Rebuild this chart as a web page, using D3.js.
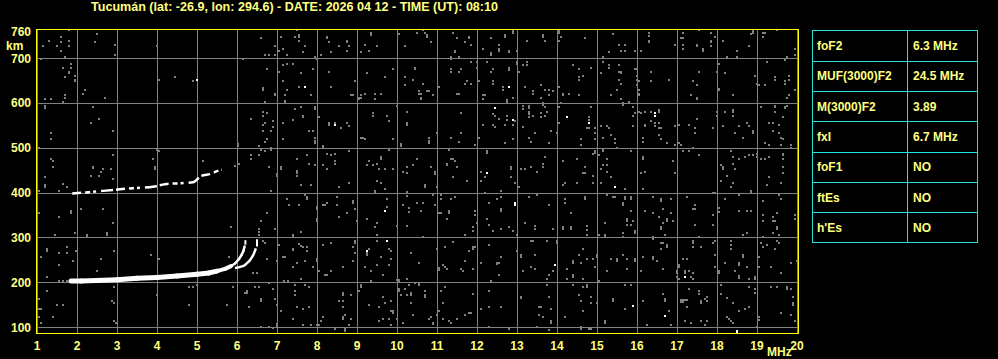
<!DOCTYPE html>
<html>
<head>
<meta charset="utf-8">
<script src="https://cdn.jsdelivr.net/npm/d3@7"></script>
<style>
  body { margin: 0; background: #000; }
  svg text { font-family: "Liberation Sans", Arial, sans-serif; font-weight: bold; font-size: 12px; fill: #ffff80; }
</style>
</head>
<body>
<div id="chart"></div>
<script>
const title = "Tucumán (lat: -26.9, lon: 294.6) - DATE: 2026 04 12 - TIME (UT): 08:10";
const freqTicks = d3.range(1, 21);
const gridHeights = [100, 200, 300, 400, 500, 600, 700];
const heightLabels = [100, 200, 300, 400, 500, 600, 700, 760];

// scaled parameters table
const paramNames = ["foF2", "MUF(3000)F2", "M(3000)F2", "fxI", "foF1", "ftEs", "h'Es"];
const paramValues = ["6.3 MHz", "24.5 MHz", "3.89", "6.7 MHz", "NO", "NO", "NO"];

// F2 ordinary trace (MHz, km)
const oFreq =   [1.85, 2.1, 2.5, 3.0, 3.5, 4.0, 4.5, 5.0, 5.3, 5.5, 5.7, 5.85, 5.95, 6.05, 6.12, 6.16, 6.19];
const oHeight = [203, 203, 204, 206, 209, 211, 214, 218, 221, 225, 230, 236, 242, 252, 262, 270, 280];
// F2 extraordinary trace
const xFreq =   [5.95, 6.1, 6.19, 6.25, 6.31, 6.36, 6.4, 6.44, 6.47];
const xHeight = [232, 235, 238, 243, 248, 254, 260, 268, 276];
// second hop of F2
const hopFreq =   [1.88, 2.3, 2.9, 3.4, 3.9, 4.2, 4.6, 4.9, 5.1, 5.35, 5.5, 5.62];
const hopHeight = [398, 401, 406, 410, 413, 419, 421, 423, 437, 442, 448, 451];
// cusp tips
const tipFreq = [6.21, 6.5];
const tipLow = [284, 280];
const tipHigh = [294, 296];

const noiseWhite = [[4.99,652],[7.69,635],[8.44,550],[12.79,635],[12.44,589],[12.89,563],[12.24,443],[14.24,568],[14.79,556],[16.44,578],[16.44,572],[9.69,359],[9.74,292],[9.24,270],[12.94,377],[12.94,373],[13.94,239],[15.44,413],[15.89,147],[16.69,125],[17.19,213],[18.49,92],[18.49,88]];

const noiseGrey = [
[1.79,762],[2.49,753],[1.6,748],[1.29,739],[1.79,739],[1.6,735],[1.14,726],[1.5,726],[1.79,726],[2.45,735],[2.94,730],[2.94,708],[1.6,717],[3.99,726],[1.09,699],[1.69,703],[6.59,744],[7.1,748],[6.94,726],[7.04,717],[7.14,721],[7.24,708],[6.69,708],[6.79,708],[6.94,708],
[1.84,688],[1.64,679],[1.84,679],[1.79,670],[1.79,666],[1.94,661],[1.94,652],[1.94,648],[1.69,657],[2.19,630],[2.14,621],[2.69,612],[1.69,617],[1.69,612],[1.64,603],[1.19,608],[1.34,608],[4.04,652],[4.44,657],[4.89,648],[6.14,699],[6.74,675],[6.64,634],[6.64,630],[6.94,621],[6.94,617],[6.69,603],[7.14,648],[7.24,630],[7.19,617],[7.19,605],[7.19,601],[7.04,670],[7.14,684],[7.24,688],
[1.19,593],[1.19,589],[2.39,592],[2.54,565],[2.34,556],[2.89,538],[1.34,533],[1.34,519],[6.34,565],[6.64,581],[6.74,577],[6.64,572],[6.89,559],[6.69,556],[6.64,550],[6.89,546],[6.64,538],[6.84,538],[7.14,556],[7.14,519],[6.74,519],[6.69,514],[1.04,500],[6.02,508],[6.02,504],[6.54,503],[6.84,500],[6.84,496],
[1.34,474],[1.39,470],[1.39,457],[1.19,434],[2.39,458],[2.39,454],[2.64,452],[2.59,447],[2.84,452],[2.34,438],[2.54,438],[2.89,483],[2.89,431],[3.99,496],[4.04,492],[3.89,474],[3.94,457],[3.94,453],[5.14,470],[5.94,460],[6.04,465],[6.34,483],[6.34,474],[6.54,483],[6.59,496],[6.69,492],[6.79,457],[7.09,457],[7.09,453],[6.99,442],[6.99,438],
[7.49,762],[7.54,752],[7.54,748],[7.44,748],[7.54,739],[7.69,726],[7.64,713],[7.94,703],[7.99,699],[8.24,748],[8.24,744],[8.29,735],[8.54,726],[8.74,739],[8.74,735],[8.79,726],[8.74,717],[8.34,713],[8.09,708],
[9.34,756],[9.34,752],[9.19,730],[9.09,713],[9.29,717],[9.49,726],[10.04,753],[10.19,726],[10.49,757],[10.64,762],[10.69,757],[10.74,752],[10.74,748],[10.84,735],
[11.39,757],[11.49,744],[11.79,748],[11.79,744],[11.69,735],[11.84,730],[11.44,717],[11.44,713],[11.34,703],[11.34,699],[11.54,703],
[12.34,744],[12.54,730],[12.54,721],[12.54,717],[12.69,752],[12.69,748],[12.14,721],[12.34,712],[12.34,708],[12.79,717],[12.79,713],[12.89,761],[12.89,757],[13.24,739],[13.64,752],[13.64,748],[12.99,717],
[7.39,688],[7.59,666],[7.89,675],[7.54,635],[7.84,617],[8.29,670],[8.34,635],[8.84,617],[8.89,617],[8.94,648],[9.04,612],[9.04,608],[9.09,617],[9.09,612],[9.19,621],[9.24,666],[9.44,621],[9.44,608],[9.59,621],[9.69,657],[9.89,675],
[10.19,657],[10.19,639],[10.39,652],[10.44,679],[10.44,675],[10.64,643],[10.54,626],[10.54,621],[10.59,621],[10.59,612],[10.59,608],[10.74,626],[10.79,626],[10.89,617],[11.04,635],
[11.34,675],[11.34,670],[11.59,675],[11.54,670],[11.74,648],[11.69,643],[11.84,643],[11.49,621],[11.54,621],[11.84,692],[11.99,692],[11.99,679],[12.04,648],[12.14,617],[12.19,617],[12.14,608],[12.24,692],[12.39,675],[12.34,670],[12.39,648],[12.39,643],[12.64,635],[12.64,630],[12.79,677],[12.79,673],[12.74,607],[12.74,603],[12.89,612],[12.99,692],[12.99,688],[13.04,670],[13.14,684],[13.24,692],[13.24,684],[13.19,635],[13.39,626],[13.39,621],[13.59,639],[13.59,612],
[7.44,586],[7.59,590],[7.64,572],[7.64,568],[7.94,590],[7.94,586],[8.04,568],[7.79,538],[7.89,538],[7.94,523],[7.94,515],[7.94,510],[7.39,563],[8.29,556],[8.29,552],[8.59,545],[8.74,556],[8.79,548],[8.44,556],
[9.39,577],[9.39,572],[9.74,572],[9.79,559],[9.09,523],[9.14,523],[9.19,519],[9.89,519],[9.99,594],[10.24,581],[10.24,556],[10.24,550],[10.79,523],[10.79,515],[10.79,510],[10.99,532],[10.09,508],[10.09,504],
[11.59,577],[11.34,523],[11.59,532],[11.54,514],[11.94,506],[12.04,523],[12.14,550],[12.39,575],[12.44,570],[12.39,550],[12.44,546],[12.54,565],[12.69,550],[12.74,572],[12.74,563],[12.94,559],[12.89,550],[12.69,510],[12.89,519],[13.14,594],[13.14,586],[13.29,594],[13.29,588],[13.29,581],[13.29,575],[13.29,568],[13.14,546],[13.39,572],[13.59,577],[13.59,568],[13.44,532],[13.29,523],[13.34,514],[13.64,599],[13.64,595],
[7.49,474],[7.49,448],[7.49,443],[7.49,437],[7.74,483],[7.79,465],[7.94,461],[8.14,504],[8.14,500],[8.24,487],[8.34,483],[8.44,487],[8.44,470],[8.44,465],[8.14,461],[8.24,452],[8.79,492],
[9.29,470],[9.24,461],[9.39,461],[9.49,465],[9.59,479],[9.59,474],[9.54,452],[9.69,452],[9.79,496],[9.89,452],[10.24,457],[10.24,443],[10.39,461],[10.14,447],[10.49,474],[10.84,457],[10.94,446],[10.94,441],
[11.29,496],[11.24,465],[11.24,461],[11.34,474],[11.39,474],[11.44,470],[11.39,434],[11.49,457],[12.24,492],[12.24,488],[12.09,447],[12.19,434],[12.84,457],[12.84,452],[12.84,434],[13.09,452],[13.19,452],[13.34,457],[13.64,465],[13.64,457],[13.49,447],
[14.04,761],[14.04,757],[14.09,748],[14.04,739],[13.69,739],[14.69,744],[15.39,753],[15.54,730],[15.69,730],[15.59,717],[15.69,717],[15.29,713],[15.14,703],[15.94,717],[16.09,717],[16.29,757],[16.29,750],[16.29,739],[16.29,735],[16.94,730],[17.14,757],[17.09,744],[17.14,744],[17.14,730],[17.14,721],[17.54,762],[17.49,730],[17.49,726],[17.64,721],[17.64,717],[17.84,757],[17.84,739],[17.84,735],[17.84,726],[17.94,748],[18.14,739],[18.49,717],[18.24,703],[18.49,703],[18.79,726],[18.89,761],[18.89,757],[18.84,753],[19.14,757],[19.14,748],[19.19,757],[19.49,762],[19.94,721],[19.94,708],[19.74,703],
[13.69,630],[13.79,630],[13.89,626],[13.79,617],[14.04,635],[14.14,621],[14.14,617],[14.29,621],[14.54,617],[14.39,684],[14.54,675],[14.64,661],[14.54,657],[14.54,652],[14.84,679],[15.14,692],[15.09,666],[15.29,684],[15.29,679],[15.54,684],[15.54,670],[15.59,670],[15.59,666],[15.54,652],[15.59,643],[15.49,630],[15.34,617],[15.59,608],[15.79,603],[15.94,675],[15.99,675],[15.99,661],[15.99,652],[16.04,648],[15.99,639],[16.04,630],[16.04,621],[16.04,617],[16.34,670],[16.34,648],[16.79,652],[17.54,670],[17.39,648],[17.49,639],[17.34,617],[17.49,612],[17.49,608],[18.04,688],[17.99,670],[18.04,632],[18.04,628],[18.19,666],[18.39,617],[18.94,661],[18.99,643],[19.04,639],[19.19,639],[19.24,692],[19.44,657],[19.44,652],[19.69,648],[19.69,643],[19.69,696],[19.79,661],[19.79,652],[19.79,617],[19.74,612],[19.94,630],
[13.69,590],[13.74,581],[13.69,572],[14.04,590],[14.09,599],[14.79,568],[14.79,563],[14.74,545],[14.79,545],[14.94,545],[14.94,532],[14.94,519],[14.59,519],[13.84,538],[13.99,533],[14.04,556],[13.79,510],[14.59,506],[14.84,590],[15.09,548],[15.24,548],[15.29,545],[15.14,523],[15.34,528],[15.44,519],[15.44,510],[15.49,500],[15.64,599],[15.64,595],[15.79,603],[15.89,590],[15.94,577],[15.89,572],[15.89,548],[16.04,581],[16.09,577],[16.19,581],[16.34,581],[16.54,585],[16.54,581],[16.34,559],[16.44,556],[16.54,556],[16.19,552],[16.19,548],[16.14,523],[16.14,514],[16.44,548],[16.54,545],[16.59,545],[16.54,528],[16.59,519],[16.74,510],[16.94,548],[16.94,506],[17.04,550],[17.29,550],[17.44,545],[17.44,532],[17.49,565],[17.89,545],[17.99,581],[17.99,572],[18.19,581],[18.39,585],[18.39,581],[18.39,572],[18.14,548],[18.44,532],[18.54,548],[18.64,523],[18.74,556],[18.79,548],[18.89,538],[18.89,533],[19.09,590],[19.29,556],[19.39,556],[19.44,594],[19.44,590],[19.44,581],[19.64,568],[19.69,592],[19.69,588],[19.74,594],[19.54,550],[19.39,538],[19.54,532],[19.59,523],[19.64,519],[19.19,510],[19.29,506],[19.59,506],[19.84,506],
[13.69,479],[14.14,470],[14.49,474],[14.69,457],[14.64,443],[14.69,443],[14.89,438],[14.94,492],[14.94,488],[14.89,487],[15.14,496],[15.14,492],[15.04,483],[15.24,474],[15.14,461],[15.24,461],[15.09,452],[15.24,447],[15.34,434],[15.84,492],[16.14,479],[16.14,474],[16.09,443],[16.19,447],[16.89,470],[16.94,443],[17.04,510],[17.09,506],[17.14,492],[17.29,492],[17.39,500],[17.54,483],[18.09,461],[18.14,457],[18.14,452],[18.24,438],[18.34,492],[18.39,479],[18.39,465],[18.44,452],[18.54,474],[18.69,479],[18.79,483],[18.89,483],[18.99,487],[18.99,479],[19.09,474],[19.19,474],[19.29,479],[19.64,487],[19.64,483],[19.64,474],[19.64,457],[19.64,443],[19.84,500],[19.29,434],
[1.19,416],[1.19,412],[1.64,419],[1.74,413],[1.04,404],[1.54,404],[1.04,355],[1.84,359],[1.84,355],[1.54,346],[2.09,364],[2.64,364],[2.89,332],[1.44,306],[1.94,310],[2.24,305],[2.24,301],[2.74,310],[2.74,306],
[1.24,274],[1.24,270],[1.09,257],[1.54,266],[1.74,279],[1.74,266],[1.97,270],[1.89,248],[1.54,239],[2.49,226],[2.59,252],[2.92,270],[1.24,212],[3.84,261],[4.04,252],[1.55,203],[1.65,203],[1.75,204],
[1.24,181],[1.04,163],[1.49,150],[1.64,150],[1.04,141],[1.09,141],[1.39,123],[1.04,123],[1.09,110],[2.92,190],[2.92,154],[2.87,158],[2.92,114],[2.97,110],[3.99,172],[4.79,190],[4.89,190],[4.79,150],[4.99,194],[5.74,150],[6.24,181],[6.24,177],[6.19,177],[6.29,145],[6.44,190],[6.54,190],[6.59,163],[6.59,159],[6.79,199],[6.89,186],[6.94,163],[6.99,150],[7.09,137],[6.99,107],[6.99,103],[6.79,101],[6.59,101],[6.89,98],[5.89,190],
[6.54,318],[6.54,312],[6.54,306],[6.59,337],[6.74,355],[6.94,318],[6.84,404],[7.24,386],[7.29,372],[6.64,292],[6.69,288],[6.74,252],[6.99,248],[7.14,257],[7.19,257],[7.04,284],[5.84,323],[5.79,257],[6.39,221],[6.49,221],[7.17,203],[7.27,203],
[7.59,417],[7.84,417],[8.54,413],[8.79,421],[9.49,426],[9.59,421],[9.69,408],[10.69,417],[10.69,413],[10.99,413],[11.74,426],[12.09,426],[12.94,421],
[7.69,395],[7.74,390],[7.74,386],[7.54,373],[8.19,373],[8.24,377],[8.14,373],[8.49,373],[8.49,390],[8.89,381],[8.89,377],[8.74,355],[8.54,346],[7.99,368],[7.99,364],[7.99,342],[7.99,337],[8.94,364],[8.99,337],[7.39,306],[7.39,302],[7.59,312],[9.44,403],[9.44,399],[9.74,386],[9.74,368],[9.24,341],[9.49,332],[9.44,323],[9.49,306],[10.29,366],[10.29,357],[10.14,373],[10.24,401],[10.24,392],[9.99,325],[10.24,325],[10.49,377],[10.64,377],[10.59,359],[10.94,373],[10.89,395],[11.09,395],[11.09,386],[11.34,386],[11.44,390],[11.04,355],[11.09,355],[11.29,359],[11.29,355],[11.24,341],[10.64,301],[11.69,306],[11.94,359],[11.94,350],[11.89,323],[11.89,314],[11.99,332],[12.19,400],[12.29,377],[12.24,341],[12.29,327],[12.39,314],[12.49,386],[12.59,404],[12.59,390],[12.59,364],[12.59,359],[12.59,319],[12.79,323],[12.89,314],[13.04,413],[13.19,332],[13.29,390],[13.49,395],[13.44,325],[13.44,319],[12.99,306],
[7.54,286],[7.59,282],[7.64,278],[7.39,275],[7.39,271],[7.74,279],[7.74,270],[7.49,244],[7.69,248],[7.39,235],[7.59,208],[7.89,235],[7.99,252],[7.99,248],[8.14,283],[8.34,287],[8.19,217],[8.24,217],[8.04,226],[8.34,226],[8.64,235],[8.89,279],[8.89,248],[8.94,292],[8.94,288],[8.94,266],[9.24,266],[9.24,262],[9.29,274],[9.19,235],[9.34,226],[9.34,204],[9.59,257],[9.64,217],[9.49,239],[9.79,274],[9.84,270],[9.84,252],[9.79,239],[9.49,292],[10.34,266],[10.54,244],[9.99,206],[10.04,206],[10.04,202],[10.24,208],[10.99,274],[11.19,279],[11.39,290],[11.04,231],[11.04,227],[11.14,239],[11.19,235],[11.24,230],[11.59,230],[11.64,226],[11.69,248],[11.79,270],[11.89,279],[11.94,279],[11.89,275],[11.89,230],[12.09,244],[12.29,283],[12.49,244],[12.54,244],[12.49,240],[12.59,257],[12.54,217],[12.99,270],[13.09,261],[13.09,257],[13.14,226],[13.34,292],[13.39,292],[13.44,261],[13.34,235],[13.44,230],[12.34,204],
[7.44,194],[7.69,194],[7.79,190],[7.44,181],[7.44,172],[7.49,145],[7.64,141],[7.79,145],[7.39,118],[7.64,105],[7.84,105],[7.99,105],[8.04,105],[8.09,114],[8.14,123],[8.44,96],[8.64,177],[8.64,172],[8.64,159],[8.54,159],[8.64,145],[8.84,172],[8.69,127],[8.64,123],[8.64,118],[8.84,118],[8.79,105],[8.69,96],[8.69,92],[9.09,194],[9.09,190],[9.04,180],[9.29,150],[9.54,145],[9.64,168],[9.84,159],[9.69,154],[9.84,137],[9.89,137],[9.89,132],[9.54,114],[9.64,118],[9.79,118],[9.84,105],[9.99,118],[10.14,110],[10.04,185],[10.04,181],[10.19,185],[10.29,194],[10.34,176],[10.34,172],[10.44,198],[10.54,198],[10.54,194],[10.09,172],[10.24,172],[10.34,154],[10.39,127],[10.69,181],[10.69,172],[10.69,168],[10.79,118],[10.84,123],[10.89,110],[10.89,106],[10.99,127],[11.09,181],[11.19,190],[11.14,154],[11.04,137],[11.14,118],[11.29,114],[11.34,110],[11.49,118],[11.69,127],[11.79,132],[11.84,132],[11.89,174],[12.09,141],[12.29,181],[12.29,145],[12.29,101],[12.59,145],[13.09,168],[13.09,164],[13.54,145],[13.59,145],[13.54,127],[13.64,123],[13.49,101],[12.79,96],
[14.19,421],[14.14,417],[14.49,421],[14.89,421],[15.09,421],[15.69,408],[16.14,408],[18.09,426],[18.39,421],[18.34,413],[19.24,417],[19.59,421],
[13.79,373],[14.19,386],[14.19,377],[14.69,390],[14.69,386],[13.89,319],[14.14,323],[14.14,319],[14.34,323],[14.34,319],[14.74,326],[14.74,317],[14.74,306],[14.34,355],[15.24,395],[15.39,390],[15.44,390],[15.69,390],[15.69,386],[15.84,390],[15.84,386],[15.64,377],[15.64,373],[15.84,359],[15.74,341],[15.74,337],[15.74,328],[15.84,328],[15.89,337],[15.94,314],[15.94,310],[15.64,310],[15.64,301],[15.19,332],[15.04,306],[15.19,306],[15.19,301],[16.19,359],[16.39,390],[16.39,355],[16.59,386],[16.59,382],[16.84,386],[16.64,364],[16.84,355],[16.54,346],[16.64,332],[16.74,341],[16.74,337],[16.59,323],[16.59,319],[16.89,337],[16.69,306],[16.39,301],[16.39,297],[17.44,372],[17.44,364],[17.39,364],[17.24,390],[17.89,399],[17.94,399],[17.89,350],[17.89,328],[18.04,366],[18.04,357],[17.44,328],[18.19,386],[18.54,395],[18.54,359],[18.74,359],[18.84,359],[18.84,403],[18.84,399],[18.64,306],[18.74,310],[19.14,382],[19.14,350],[19.14,337],[19.39,346],[19.39,337],[19.44,337],[19.49,355],[19.59,386],[19.54,395],[19.49,323],[19.49,319],[19.54,306],[19.39,310],[19.94,350],[19.94,341],[19.14,301],
[13.74,292],[13.99,292],[13.99,288],[13.89,226],[13.79,217],[13.74,208],[14.24,230],[14.24,208],[14.39,248],[14.39,244],[14.54,261],[14.64,274],[14.59,244],[14.74,252],[14.89,252],[14.94,235],[14.99,261],[14.99,257],[14.64,208],[14.39,217],[14.39,213],[15.04,204],[15.24,226],[15.34,252],[15.49,252],[15.49,248],[15.64,261],[15.74,252],[15.94,252],[15.94,248],[15.74,230],[16.14,257],[16.09,226],[16.39,257],[16.39,252],[16.49,248],[16.59,287],[16.64,287],[16.74,283],[16.74,279],[16.64,230],[16.59,274],[17.04,239],[17.04,235],[16.99,226],[16.99,221],[16.99,213],[17.04,208],[17.14,252],[17.24,252],[17.19,226],[17.19,221],[17.29,226],[17.39,221],[17.34,213],[17.39,208],[17.39,292],[17.39,288],[17.39,279],[17.59,279],[17.54,301],[17.94,292],[17.89,288],[17.94,261],[17.94,235],[18.04,226],[18.04,221],[18.19,244],[18.34,292],[18.34,283],[18.34,274],[18.44,226],[18.54,244],[18.54,239],[18.54,215],[18.54,210],[18.64,261],[18.64,257],[18.74,235],[18.79,208],[18.94,212],[18.94,208],[19.09,287],[19.14,279],[19.24,283],[19.49,292],[19.54,287],[19.44,274],[19.34,235],[19.59,221],[19.84,244],[19.99,248],[19.04,235],[19.04,257],
[13.74,194],[13.79,168],[13.84,141],[13.84,114],[13.84,110],[13.79,93],[14.19,123],[14.39,194],[14.54,172],[14.59,159],[14.64,137],[14.74,194],[14.74,190],[14.64,190],[14.84,168],[14.84,154],[14.99,154],[14.59,101],[14.59,97],[14.79,96],[14.84,96],[15.19,114],[15.19,110],[15.39,163],[15.39,159],[15.69,194],[15.69,141],[15.84,194],[16.14,159],[16.24,105],[16.64,174],[16.69,163],[16.69,159],[16.79,137],[16.84,105],[17.09,161],[17.14,161],[17.14,157],[17.19,161],[17.24,161],[17.09,157],[17.29,185],[17.54,181],[17.54,174],[17.59,159],[17.59,154],[17.74,168],[17.69,163],[17.74,159],[17.24,145],[17.19,114],[17.34,110],[17.59,114],[17.74,114],[17.69,105],[18.24,123],[18.29,118],[18.34,114],[18.39,110],[18.54,137],[18.69,141],[18.79,145],[18.09,194],[18.09,174],[18.24,166],[18.39,154],[18.79,190],[18.94,185],[18.94,177],[19.04,123],[19.04,116],[19.34,190],[19.49,190],[19.74,190],[19.74,186],[19.84,185],[19.89,168],[19.89,154],[19.89,150],[19.84,127],[19.94,114],[19.59,132],[18.99,101]
];

const width = 998;
const height = 359;
const gridColor = "#808080";
const frameColor = "#ffff00";
const tableColor = "#20e0e0";

const svg = d3.select("#chart").append("svg")
    .attr("width", width)
    .attr("height", height)
    .style("background", "#000")
    .style("display", "block");

const x = d3.scaleLinear().domain([1, 20]).range([37, 797]);
const y = d3.scaleLinear().domain([87, 765]).range([333, 29]);
const px = v => Math.round(x(v)) + 0.5;
const py = v => Math.round(y(v)) + 0.5;

svg.append("text")
    .attr("x", 91)
    .attr("y", 11)
    .attr("textLength", 407)
    .attr("lengthAdjust", "spacingAndGlyphs")
    .text(title);

// grid
const grid = svg.append("g").attr("shape-rendering", "crispEdges");
grid.selectAll(".vgrid")
    .data(freqTicks)
    .join("line")
    .attr("x1", d => px(d)).attr("x2", d => px(d))
    .attr("y1", 30).attr("y2", 333)
    .attr("stroke", gridColor);
grid.selectAll(".hgrid")
    .data(gridHeights)
    .join("line")
    .attr("class", "hgrid")
    .attr("x1", 37).attr("x2", 798)
    .attr("y1", d => py(d)).attr("y2", d => py(d))
    .attr("stroke", gridColor);

// noise echoes
svg.append("g")
    .selectAll("rect")
    .data(noiseGrey)
    .join("rect")
    .attr("x", d => Math.round(x(d[0])) - 1)
    .attr("y", d => Math.round(y(d[1])) - 1)
    .attr("width", 2)
    .attr("height", 2)
    .attr("fill", gridColor);

svg.append("g")
    .selectAll("rect")
    .data(noiseWhite)
    .join("rect")
    .attr("x", d => Math.round(x(d[0])) - 1)
    .attr("y", d => Math.round(y(d[1])) - 1)
    .attr("width", 2)
    .attr("height", 2)
    .attr("fill", "#fff");

// traces
const traces = svg.append("g");
const oPts = oFreq.map((f, i) => [f, oHeight[i]]);
for (let i = 1; i < oPts.length; i++) {
    const f = oPts[i][0];
    traces.append("line")
        .attr("x1", x(oPts[i - 1][0])).attr("y1", y(oPts[i - 1][1]))
        .attr("x2", x(f)).attr("y2", y(oPts[i][1]))
        .attr("stroke", "#fff")
        .attr("stroke-linecap", "round")
        .attr("stroke-width", f <= 5.5 ? 5 : f <= 5.9 ? 4 : 2.5);
}

const line = d3.line().x(d => x(d[0])).y(d => y(d[1])).curve(d3.curveMonotoneX);
traces.append("path")
    .attr("d", line(xFreq.map((f, i) => [f, xHeight[i]])))
    .attr("fill", "none")
    .attr("stroke", "#fff")
    .attr("stroke-width", 2.5);

traces.append("path")
    .attr("d", line(hopFreq.map((f, i) => [f, hopHeight[i]])))
    .attr("fill", "none")
    .attr("stroke", "#fff")
    .attr("stroke-width", 2.5)
    .attr("stroke-dasharray", "9,4,5,3,3,5,12,3");

traces.selectAll(".tip")
    .data(tipFreq)
    .join("line")
    .attr("x1", d => x(d)).attr("x2", d => x(d))
    .attr("y1", (d, i) => y(tipLow[i])).attr("y2", (d, i) => y(tipHigh[i]))
    .attr("stroke", "#fff")
    .attr("stroke-width", 2);

// frame
svg.append("path")
    .attr("d", "M36.5,333.5V29.5H798.5V333.5H36.5")
    .attr("fill", "none")
    .attr("stroke", frameColor)
    .attr("shape-rendering", "crispEdges");

// axis labels
svg.selectAll(".ylab")
    .data(heightLabels)
    .join("text")
    .attr("class", "ylab")
    .attr("x", 31)
    .attr("y", d => y(d) + 4.5)
    .attr("text-anchor", "end")
    .text(d => d);

svg.append("text").attr("x", 6).attr("y", 50).text("km");

svg.selectAll(".xlab")
    .data(freqTicks)
    .join("text")
    .attr("class", "xlab")
    .attr("x", d => x(d))
    .attr("y", 350)
    .attr("text-anchor", "middle")
    .text(d => d);

svg.append("text").attr("x", 767).attr("y", 356).text("MHz");

// parameter table
const row = d3.scaleLinear().domain([0, paramNames.length]).range([30.5, 242.5]);
const table = svg.append("g").attr("shape-rendering", "crispEdges");
table.append("rect")
    .attr("x", 812.5).attr("y", row(0))
    .attr("width", 165).attr("height", row(paramNames.length) - row(0))
    .attr("fill", "none").attr("stroke", tableColor);
table.append("line")
    .attr("x1", 907.5).attr("x2", 907.5)
    .attr("y1", row(0)).attr("y2", row(paramNames.length))
    .attr("stroke", tableColor);
table.selectAll(".rowline")
    .data(d3.range(1, paramNames.length))
    .join("line")
    .attr("class", "rowline")
    .attr("x1", 812.5).attr("x2", 977.5)
    .attr("y1", d => Math.round(row(d)) + 0.5).attr("y2", d => Math.round(row(d)) + 0.5)
    .attr("stroke", tableColor);

table.selectAll(".pname")
    .data(paramNames)
    .join("text")
    .attr("class", "pname")
    .attr("x", 817)
    .attr("y", (d, i) => (row(i) + row(i + 1)) / 2 + 4.5)
    .text(d => d);
table.selectAll(".pval")
    .data(paramValues)
    .join("text")
    .attr("class", "pval")
    .attr("x", 913)
    .attr("y", (d, i) => (row(i) + row(i + 1)) / 2 + 4.5)
    .text(d => d);
</script>
</body>
</html>
